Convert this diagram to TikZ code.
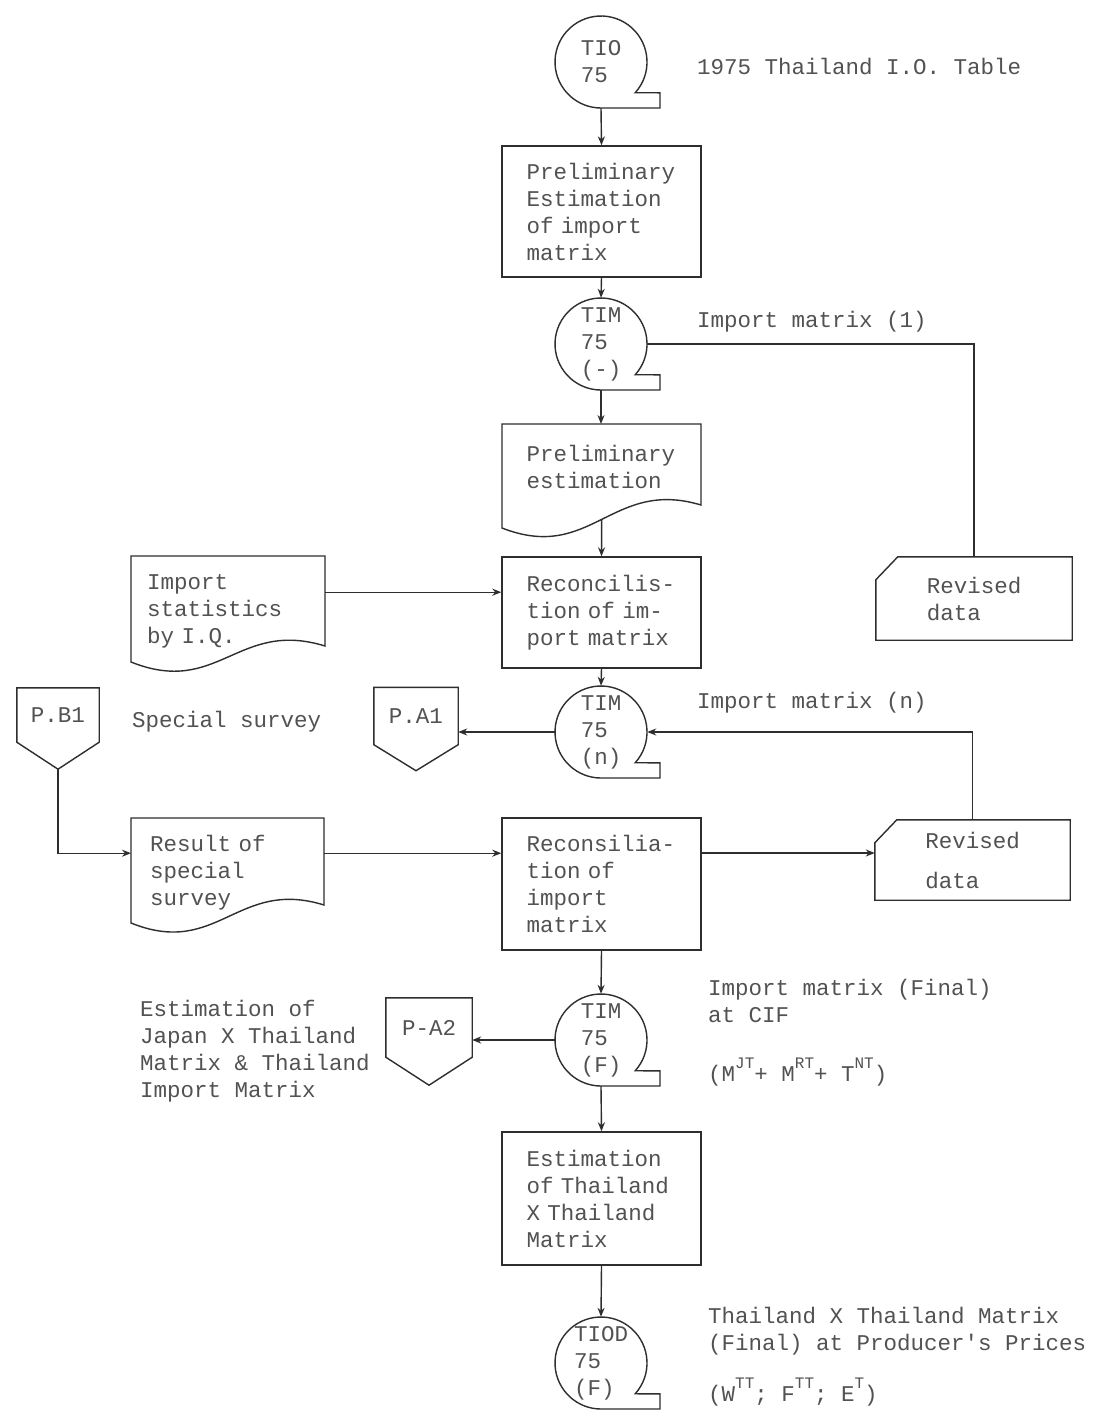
\documentclass[tikz,border=0pt]{standalone}
\usepackage{fontspec}
\usetikzlibrary{arrows.meta}
\newfontfamily\monof{Liberation Mono}
\newcommand\tfont{\monof\fontsize{22.5}{27}\selectfont}
\newcommand\sups[1]{\raisebox{0.55em}{\fontsize{16}{16}\selectfont #1}}
\definecolor{ink}{gray}{0.18}
\definecolor{txtc}{gray}{0.32}
\newcommand\tapeout[1]{\draw[line] ([shift={(-42:46)}]#1.center) arc[start angle=-42,end angle=270,radius=46] -- ++(59,0) -- ++(0,15.2) -- cycle;}
\newcommand\docout[4]{\draw[line,shift={(#1.north west)}] (0,0) -- (#2,0) -- (#2,-#3) .. controls ({0.55*#2},{-#3+27}) and ({0.45*#2},{-#4-35}) .. (0,-#4) -- cycle;}
\newcommand\offout[2]{\draw[line] (#1.north west) -- (#1.north east) -- (#1.south east) -- ([yshift=-#2]#1.south) -- (#1.south west) -- cycle;}
\newcommand\cardout[1]{\draw[line] ([yshift=-23pt]#1.north west) -- ([xshift=22pt]#1.north west) -- (#1.north east) -- (#1.south east) -- (#1.south west) -- cycle;}
\tikzset{
  line/.style={draw=ink, line width=1.4pt},
  arr/.style={line, -{Stealth[length=9pt,width=7pt]}},
  lbl/.style={font=\tfont, text=txtc, inner sep=0pt, align=left},
  procbox/.style={rectangle, line, minimum width=199pt, text width=150pt, inner xsep=24.5pt, align=left, font=\tfont, text=txtc},
  tapenode/.style={circle, minimum size=92pt, inner sep=0pt, align=left, font=\tfont, text=txtc},
  docnode/.style={rectangle, inner ysep=0pt, align=left, font=\tfont, text=txtc, anchor=north west},
  cardnode/.style={rectangle, align=left, font=\tfont, text=txtc, inner sep=0pt},
  offnode/.style={rectangle, font=\tfont, text=txtc, inner sep=0pt},
}
\begin{document}
\begin{tikzpicture}[x=1pt,y=1pt]
\useasboundingbox (0,0) rectangle (1095,-1411);
\fill[white] (0,0) rectangle (1095,-1411);

% main column
\node[tapenode] (tio) at (601,-62) {TIO\\75};
\tapeout{tio}
\node[lbl, anchor=west] (tiolbl) at (697,-66) {1975 Thailand I.O. Table};

\node[procbox, minimum height=131pt] (b1) at (601.5,-211.5) {Preliminary\\Estimation\\of import\\matrix};

\node[tapenode] (tim1) at (601,-344) {TIM\\75\\(-)};
\tapeout{tim1}
\node[lbl, anchor=west] (tim1lbl) at (697,-322) {Import matrix (1)};

\node[docnode, text width=150pt, inner xsep=24.5pt, minimum height=86pt] (d1) at (502,-424) {Preliminary\\estimation};
\docout{d1}{199}{81}{104}
\coordinate (d1w) at ([yshift=-95.5pt]d1.north);

\node[procbox, minimum height=111pt] (rc1) at (601.5,-612.5) {Reconcilis-\\tion of im-\\port matrix};

\node[docnode, text width=162pt, inner xsep=16pt, minimum height=110pt] (is) at (131,-556) {Import\\statistics\\by I.Q.};
\docout{is}{194}{90}{106}

\node[cardnode, minimum width=196pt, minimum height=83pt] (rv1) at (974,-598.5) {Revised\\data};
\cardout{rv1}

\node[tapenode] (tim2) at (601,-732) {TIM\\75\\(n)};
\tapeout{tim2}
\node[lbl, anchor=west] (tim2lbl) at (697,-703) {Import matrix (n)};

\node[offnode, minimum width=82pt, minimum height=54pt] (pb1) at (58,-715) {P.B1};
\offout{pb1}{27pt}
\coordinate (pb1tip) at ([yshift=-27pt]pb1.south);
\node[lbl, anchor=west] (sslbl) at (132,-722) {Special survey};

\node[offnode, minimum width=84pt, minimum height=57pt] (pa1) at (416,-716) {P.A1};
\offout{pa1}{26pt}

\node[docnode, text width=155pt, inner xsep=19pt, minimum height=108pt] (rs) at (131,-818) {Result of\\special\\survey};
\docout{rs}{193}{87}{105}

\node[procbox, minimum height=132pt] (rc2) at (601.5,-884) {Reconsilia-\\tion of\\import\\matrix};

\node[cardnode, minimum width=195pt, minimum height=80pt] (rv2) at (972.5,-860) {Revised\\[13pt]data};
\cardout{rv2}

\node[tapenode] (tim3) at (601,-1040) {TIM\\75\\(F)};
\tapeout{tim3}
\node[lbl, anchor=west] (tim3lbl) at (708,-1001) {Import matrix (Final)\\at CIF};
\node[lbl, anchor=west] (tim3f) at (708,-1072) {(M\sups{JT}+ M\sups{RT}+ T\sups{NT})};

\node[offnode, minimum width=86pt, minimum height=59pt] (pa2) at (429,-1027.5) {P-A2};
\offout{pa2}{28pt}
\node[lbl, anchor=north west] (jplbl) at (140,-1000) {Estimation of\\Japan X Thailand\\Matrix \& Thailand\\Import Matrix};

\node[procbox, minimum height=133pt] (be) at (601.5,-1198.5) {Estimation\\of Thailand\\X Thailand\\Matrix};

\node[tapenode] (tiod) at (601,-1363) {TIOD\\75\\(F)};
\tapeout{tiod}
\node[lbl, anchor=west] (tiodlbl) at (708,-1331) {Thailand X Thailand Matrix\\(Final) at Producer's Prices};
\node[lbl, anchor=west] (tiodf) at (708,-1392) {(W\sups{TT}; F\sups{TT}; E\sups{T})};

% connectors
\draw[arr] (tio.south) -- (b1.north);
\draw[arr] (b1.south) -- (tim1.north);
\draw[line] (tim1.east) -| (rv1.north);
\draw[arr] (tim1.south) -- (tim1.south |- d1.north);
\draw[arr] (d1w) -- (rc1.north);
\draw[arr] ([yshift=19pt]is.east) -- ([yshift=19pt]is.east -| rc1.west);
\draw[arr] (rc1.south) -- (tim2.north);
\draw[arr] (tim2.west) -- (tim2.west -| pa1.east);
\draw[arr] (rv2.north) |- (tim2.east);
\draw[arr] (pb1tip) |- ([yshift=19pt]rs.west);
\draw[arr] ([yshift=19pt]rs.east) -- ([yshift=19pt]rs.east -| rc2.west);
\draw[arr] ([yshift=31pt]rc2.east) -- ([yshift=31pt]rc2.east -| rv2.west);
\draw[arr] (rc2.south) -- (tim3.north);
\draw[arr] (tim3.west) -- (tim3.west -| pa2.east);
\draw[arr] (tim3.south) -- (be.north);
\draw[arr] (be.south) -- (tiod.north);
\end{tikzpicture}
\end{document}
